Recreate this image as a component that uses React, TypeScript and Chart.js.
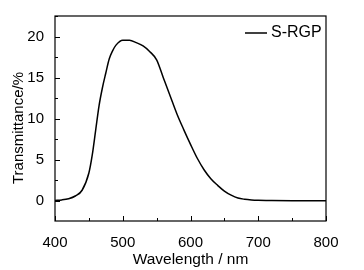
import React, { useEffect, useRef } from "react";
import { Chart, registerables } from "chart.js";

Chart.register(...registerables);

const wavelengths = [400, 410, 420, 430, 440, 450, 455, 460, 465, 470, 475, 480, 485, 490, 500, 510, 520, 530, 540, 550, 560, 570, 580, 590, 600, 610, 620, 630, 640, 650, 660, 670, 680, 690, 700, 720, 750, 800];
const transmittance = [0.05, 0.12, 0.27, 0.6, 1.3, 3.4, 5.6, 8.6, 11.6, 13.8, 15.6, 17.3, 18.3, 19.0, 19.6, 19.6, 19.3, 18.9, 18.2, 17.2, 15.0, 12.8, 10.6, 8.7, 6.9, 5.2, 3.8, 2.7, 1.9, 1.2, 0.7, 0.35, 0.2, 0.12, 0.08, 0.05, 0.03, 0.02];
const seriesName = "S-RGP";
const yTitle = "Transmittance/%";
const xTicks = [400, 450, 500, 550, 600, 650, 700, 750, 800];
const xLabels = [400, 500, 600, 700, 800];
const yTicks = [-2.5, 0, 2.5, 5, 7.5, 10, 12.5, 15, 17.5, 20, 22.5];
const yLabels = [0, 5, 10, 15, 20];

const FONT = "'Liberation Sans', Arial, sans-serif";

const framePlugin = {
  id: "frame",
  afterDatasetsDraw(chart: any) {
    const { ctx, chartArea: a, scales } = chart;
    const xs = scales.x;
    const ys = scales.y;
    ctx.save();
    ctx.strokeStyle = "#000";
    ctx.lineWidth = 1.2;
    ctx.strokeRect(a.left, a.top, a.right - a.left, a.bottom - a.top);
    ctx.lineWidth = 1;
    ctx.beginPath();
    xTicks.forEach((v) => {
      const px = Math.round(xs.getPixelForValue(v)) + 0.5;
      const len = xLabels.includes(v) ? 5 : 3;
      ctx.moveTo(px, a.bottom);
      ctx.lineTo(px, a.bottom - len);
    });
    yTicks.forEach((v) => {
      if (v < ys.min || v > ys.max) return;
      const py = Math.round(ys.getPixelForValue(v)) + 0.5;
      const len = yLabels.includes(v) ? 5 : 3;
      ctx.moveTo(a.left, py);
      ctx.lineTo(a.left + len, py);
    });
    ctx.stroke();
    // legend
    const ly = 33;
    ctx.lineWidth = 1.5;
    ctx.beginPath();
    ctx.moveTo(245, ly);
    ctx.lineTo(267, ly);
    ctx.stroke();
    ctx.fillStyle = "#000";
    ctx.font = `16px ${FONT}`;
    ctx.textBaseline = "middle";
    ctx.textAlign = "left";
    ctx.fillText(seriesName, 271, ly);
    // y title
    ctx.translate(19, 128);
    ctx.rotate(-Math.PI / 2);
    ctx.textAlign = "center";
    ctx.font = `15px ${FONT}`;
    ctx.fillText(yTitle, 0, 0);
    ctx.restore();
  },
};

export default function App() {
  const ref = useRef<HTMLCanvasElement | null>(null);
  useEffect(() => {
    if (!ref.current) return;
    const chart = new Chart(ref.current, {
      type: "line",
      data: {
        datasets: [
          {
            label: seriesName,
            data: wavelengths.map((w, i) => ({ x: w, y: transmittance[i] })),
            borderColor: "#000",
            borderWidth: 1.5,
            pointRadius: 0,
            cubicInterpolationMode: "monotone",
            fill: false,
          },
        ],
      },
      options: {
        animation: false,
        responsive: false,
        layout: { padding: { top: 16, right: 38, left: 0, bottom: 0 } },
        plugins: { legend: { display: false }, tooltip: { enabled: false } },
        scales: {
          x: {
            type: "linear",
            min: 400,
            max: 800,
            grid: { display: false },
            border: { display: false },
            afterBuildTicks: (s: any) => {
              s.ticks = xLabels.map((v) => ({ value: v }));
            },
            afterFit: (s: any) => {
              s.height = 49;
            },
            ticks: {
              color: "#000",
              font: { family: FONT, size: 15 },
              padding: 5,
              maxRotation: 0,
              autoSkip: false,
            },
            title: {
              display: true,
              text: "Wavelength / nm",
              color: "#000",
              font: { family: FONT, size: 15.5 },
              padding: { top: 0, bottom: 1 },
            },
          },
          y: {
            type: "linear",
            min: -2.45,
            max: 22.55,
            grid: { display: false },
            border: { display: false },
            afterBuildTicks: (s: any) => {
              s.ticks = yLabels.map((v) => ({ value: v }));
            },
            afterFit: (s: any) => {
              s.width = 55;
            },
            ticks: {
              color: "#000",
              font: { family: FONT, size: 15 },
              padding: 3,
              autoSkip: false,
            },
            title: { display: false },
          },
        },
      },
      plugins: [framePlugin],
    } as any);
    return () => chart.destroy();
  }, []);
  return (
    <div style={{ position: "fixed", left: 0, top: 0, width: 364, height: 270, background: "#fff" }}>
      <canvas ref={ref} width={364} height={270} />
    </div>
  );
}
